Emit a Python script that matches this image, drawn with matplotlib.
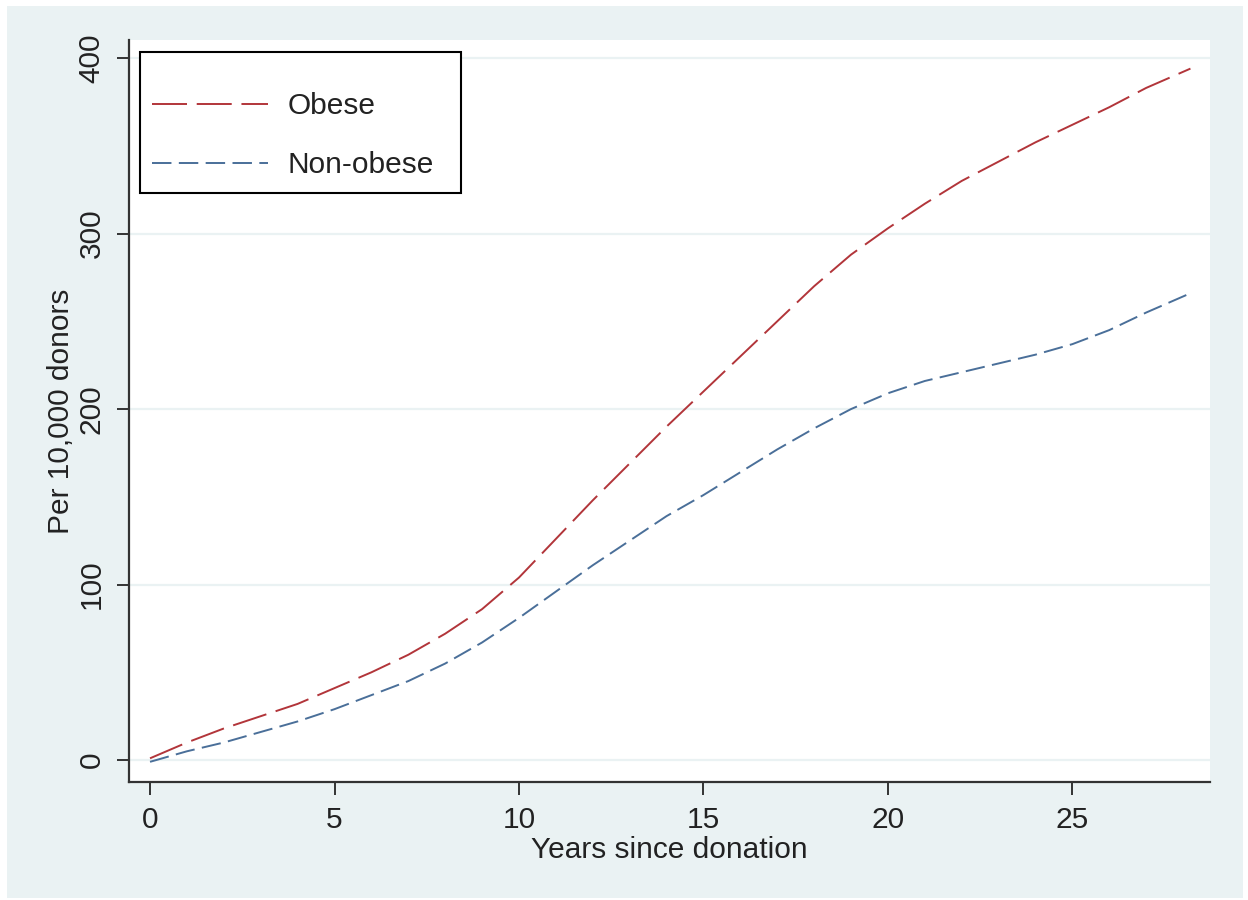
import matplotlib
matplotlib.use("Agg")
import matplotlib.pyplot as plt
from matplotlib.patches import Rectangle

plt.rcParams['font.family'] = ['Liberation Sans', 'DejaVu Sans']

# years since donation, cumulative incidence per 10,000 donors
years = [0, 1, 2, 3, 4, 5, 6, 7, 8, 9, 10, 11, 12, 13, 14, 15, 16, 17, 18, 19, 20,
         21, 22, 23, 24, 25, 26, 27, 28.2]
obese = [1, 10, 18, 25, 32, 41, 50, 60, 72, 86, 104, 126, 148, 169, 190, 210, 230, 250,
         270, 288, 303, 317, 330, 341, 352, 362, 372, 383, 394]
non_obese = [-1, 5, 10, 16, 22, 29, 37, 45, 55, 67, 81, 96, 111, 125, 139, 151, 164, 177,
             189, 200, 209, 216, 221, 226, 231, 237, 245, 255, 266]

xticks = [0, 5, 10, 15, 20, 25]
yticks = [0, 100, 200, 300, 400]

panel = '#EAF2F3'
fs = 21.5

fig = plt.figure(figsize=(12.48, 9), dpi=100, facecolor='white')
fig.patches.append(Rectangle((7 / 1248, 2 / 900), 1236 / 1248, 892 / 900,
                             transform=fig.transFigure, facecolor=panel,
                             edgecolor='none', zorder=-10))

ax = fig.add_axes([129 / 1248, 118 / 900, 1081 / 1248, 742 / 900])
ax.set_facecolor('white')

ax.plot(years, obese, color='#B2353A', lw=1.4, dashes=(18, 5), label='Obese')
ax.plot(years, non_obese, color='#4A6F99', lw=1.4, dashes=(10, 3.8), label='Non-obese')

ax.set_xlim(-0.57, 28.73)
ax.set_ylim(-12.5, 410.3)
ax.set_xticks(xticks)
ax.set_yticks(yticks)
ax.yaxis.grid(True, color=panel, lw=1.6)
ax.set_axisbelow(True)

for s in ['top', 'right']:
    ax.spines[s].set_visible(False)
for s in ['left', 'bottom']:
    ax.spines[s].set_color('#333333')
    ax.spines[s].set_linewidth(1.6)

ax.tick_params(axis='both', direction='out', length=9, width=1.4, color='#333333',
               labelsize=fs, labelcolor='#222222')
ax.tick_params(axis='x', pad=8)
ax.tick_params(axis='y', pad=8)
for lab in ax.get_yticklabels():
    lab.set_rotation(90)
    lab.set_va('center')

ax.set_xlabel('Years since donation', fontsize=fs, color='#222222', labelpad=2)
ax.set_ylabel('Per 10,000 donors', fontsize=fs, color='#222222', labelpad=2)

# legend frame drawn separately so the padding can differ per side
ax.add_patch(Rectangle((11 / 1081, 589 / 742), 321 / 1081, 141 / 742,
                       transform=ax.transAxes, facecolor='white', edgecolor='black',
                       lw=1.5, zorder=5))
leg = ax.legend(loc='upper left', bbox_to_anchor=(23 / 1081, 690 / 742),
                borderaxespad=0, borderpad=0, fontsize=fs, frameon=False,
                handlelength=3.9, handletextpad=0.65, labelspacing=1.05)
leg.set_zorder(6)
for t in leg.get_texts():
    t.set_color('#222222')

fig.savefig('out.png', dpi=100, facecolor='white')
